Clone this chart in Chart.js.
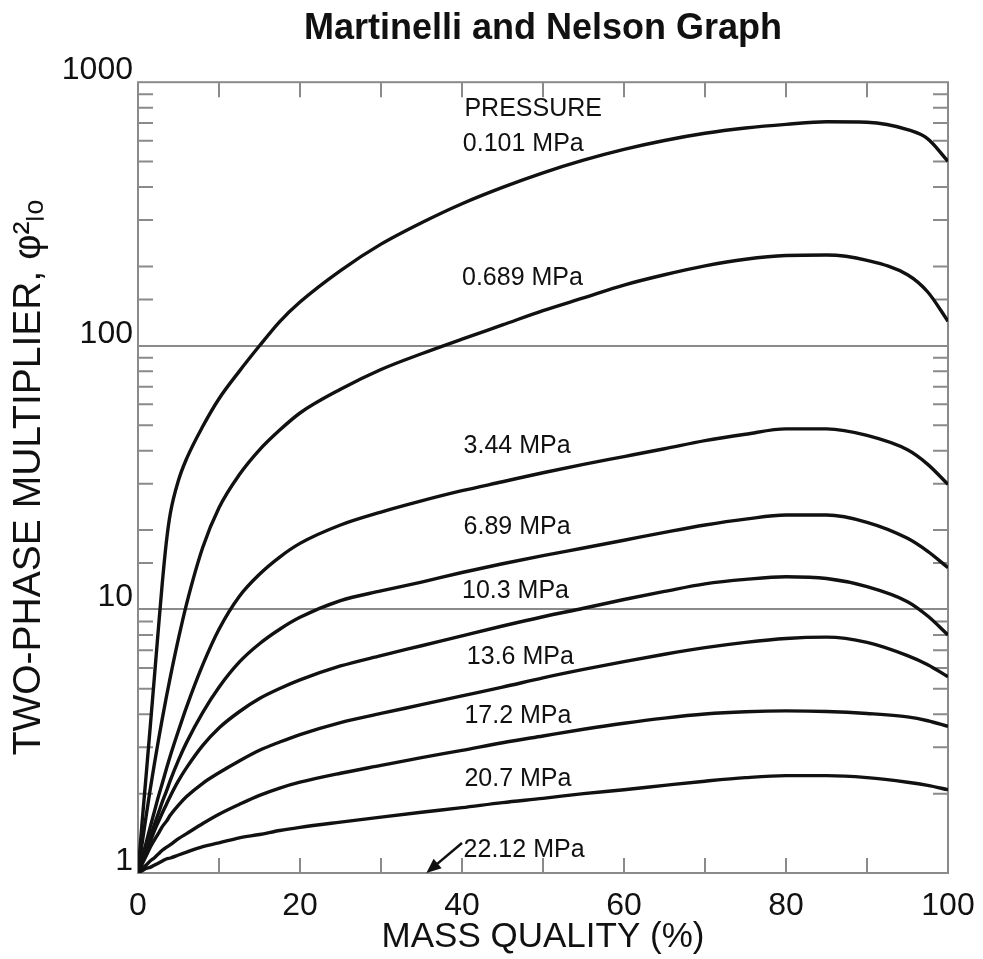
<!DOCTYPE html>
<html lang="en">
<head>
<meta charset="UTF-8" />
<title>Martinelli and Nelson Graph</title>
<script src="https://cdn.jsdelivr.net/npm/chart.js"></script>
<style>
  html, body { margin: 0; padding: 0; background: #fff; }
  #wrap { width: 983px; height: 959px; }
</style>
</head>
<body>
<div id="wrap"><canvas id="chart" width="983" height="959"></canvas></div>
<script>
  // mass quality (%) shared by every curve
  const quality = [0, 0.5, 1, 1.5, 2, 2.5, 3, 3.5, 4, 5, 6, 8, 10, 12.5, 15, 17.5, 20,
    25, 30, 35, 40, 45, 50, 55, 60, 65, 70, 75, 80, 85, 90, 95, 97.5, 100];

  // two-phase multiplier, one array per pressure
  const p0101 = [1, 1.55, 2.34, 3.55, 5.43, 8.32, 12.6, 18, 23.2, 30.9, 37.3, 49.5, 63, 80, 100, 123.6, 146.6,
    193, 243, 293, 346, 399, 453, 506, 556, 601, 640, 670, 692, 708, 705, 661, 610, 501];
  const p0689 = [1, 1.29, 1.64, 2.07, 2.57, 3.16, 3.85, 4.65, 5.56, 7.76, 10.5, 17.2, 24.3, 32.4, 40.3, 47.9, 55.6,
    68.4, 81.3, 93.3, 106, 120, 136, 152, 170, 186, 201, 213, 220, 221, 211, 186, 160, 124];
  const p344 = [1, 1.14, 1.30, 1.49, 1.70, 1.94, 2.19, 2.48, 2.79, 3.47, 4.27, 6.17, 8.41, 11.2, 13.6, 15.8, 17.8,
    20.9, 23.4, 25.8, 28.2, 30.5, 33.0, 35.5, 38.0, 40.7, 43.7, 46.2, 48.4, 48.4, 45.7, 40.3, 35.5, 29.8];
  const p689 = [1, 1.11, 1.24, 1.37, 1.52, 1.68, 1.86, 2.04, 2.25, 2.68, 3.13, 4.07, 5.07, 6.31, 7.41, 8.41, 9.33,
    10.8, 11.75, 12.7, 13.8, 14.9, 16.0, 17.1, 18.3, 19.6, 20.9, 22.0, 22.8, 22.8, 21.4, 18.6, 16.6, 14.4];
  const p103 = [1, 1.1, 1.2, 1.31, 1.44, 1.56, 1.69, 1.82, 1.96, 2.24, 2.51, 3.05, 3.55, 4.09, 4.59, 5.01, 5.40,
    6.10, 6.68, 7.28, 7.94, 8.65, 9.38, 10.1, 10.9, 11.7, 12.5, 13.0, 13.3, 13.1, 12.2, 10.7, 9.44, 8.0];
  const p136 = [1, 1.08, 1.16, 1.25, 1.33, 1.41, 1.50, 1.57, 1.66, 1.81, 1.95, 2.19, 2.40, 2.66, 2.92, 3.14, 3.35,
    3.72, 4.03, 4.35, 4.70, 5.07, 5.50, 5.92, 6.34, 6.76, 7.16, 7.50, 7.76, 7.85, 7.50, 6.68, 6.17, 5.55];
  const p172 = [1, 1.04, 1.07, 1.11, 1.14, 1.18, 1.22, 1.25, 1.28, 1.35, 1.41, 1.54, 1.67, 1.82, 1.97, 2.10, 2.21,
    2.39, 2.56, 2.74, 2.92, 3.12, 3.31, 3.51, 3.70, 3.87, 4.01, 4.09, 4.12, 4.10, 4.03, 3.91, 3.78, 3.60];
  const p207 = [1, 1.02, 1.04, 1.05, 1.07, 1.09, 1.11, 1.13, 1.14, 1.17, 1.20, 1.26, 1.30, 1.36, 1.40, 1.45, 1.49,
    1.56, 1.63, 1.70, 1.77, 1.85, 1.92, 2.0, 2.07, 2.15, 2.23, 2.30, 2.34, 2.34, 2.30, 2.21, 2.15, 2.07];

  const curves = [p0101, p0689, p344, p689, p103, p136, p172, p207];

  // curve labels and where they sit, in data units (quality %, multiplier)
  const labelText = ['PRESSURE', '0.101 MPa', '0.689 MPa', '3.44 MPa', '6.89 MPa',
    '10.3 MPa', '13.6 MPa', '17.2 MPa', '20.7 MPa', '22.12 MPa'];
  const labelQuality = [40.3, 40.1, 40, 40.2, 40.2, 40, 40.6, 40.3, 40.3, 40.2];
  const labelValue = [790, 580, 180, 41.5, 20.6, 11.7, 6.6, 3.95, 2.27, 1.22];

  // arrow for the critical pressure curve (tail, head)
  const arrowQuality = [40, 35.6];
  const arrowValue = [1.3, 1];

  const FONT = '"Liberation Sans", Arial, sans-serif';
  const ink = '#111';

  const isDecade = v => Math.abs(Math.log10(v) - Math.round(Math.log10(v))) < 1e-9;

  const framePlugin = {
    id: 'frame',
    beforeDatasetsDraw(chart) {
      const { ctx, chartArea: a, scales: { x, y } } = chart;
      ctx.save();
      ctx.strokeStyle = '#8a8a8a';
      ctx.lineWidth = 2;
      ctx.strokeRect(a.left, a.top, a.right - a.left, a.bottom - a.top);
      ctx.beginPath();
      x.ticks.forEach(t => {
        if (t.value <= 0 || t.value >= 100) return;
        const px = x.getPixelForValue(t.value);
        ctx.moveTo(px, a.bottom); ctx.lineTo(px, a.bottom - 15);
        ctx.moveTo(px, a.top); ctx.lineTo(px, a.top + 15);
      });
      y.ticks.forEach(t => {
        if (isDecade(t.value)) return;
        const py = y.getPixelForValue(t.value);
        ctx.moveTo(a.left, py); ctx.lineTo(a.left + 15, py);
        ctx.moveTo(a.right, py); ctx.lineTo(a.right - 15, py);
      });
      ctx.stroke();
      ctx.restore();
    },
    afterDraw(chart) {
      const { ctx, scales: { x, y } } = chart;
      ctx.save();
      ctx.fillStyle = ink;
      ctx.font = '25px ' + FONT;
      ctx.textBaseline = 'middle';
      ctx.textAlign = 'left';
      labelText.forEach((txt, i) => {
        ctx.fillText(txt, x.getPixelForValue(labelQuality[i]), y.getPixelForValue(labelValue[i]));
      });
      // arrow
      const x0 = x.getPixelForValue(arrowQuality[0]), y0 = y.getPixelForValue(arrowValue[0]);
      const x1 = x.getPixelForValue(arrowQuality[1]), y1 = y.getPixelForValue(arrowValue[1]);
      const ang = Math.atan2(y1 - y0, x1 - x0);
      ctx.strokeStyle = ink;
      ctx.lineWidth = 2.5;
      ctx.beginPath();
      ctx.moveTo(x0, y0);
      ctx.lineTo(x1 - 8 * Math.cos(ang), y1 - 8 * Math.sin(ang));
      ctx.stroke();
      ctx.beginPath();
      ctx.moveTo(x1, y1);
      ctx.lineTo(x1 - 16 * Math.cos(ang - 0.4), y1 - 16 * Math.sin(ang - 0.4));
      ctx.lineTo(x1 - 16 * Math.cos(ang + 0.4), y1 - 16 * Math.sin(ang + 0.4));
      ctx.closePath();
      ctx.fill();
      ctx.restore();
    }
  };

  new Chart(document.getElementById('chart'), {
    type: 'line',
    data: {
      datasets: curves.map((c, i) => ({
        label: labelText[i + 1],
        data: quality.map((q, j) => ({ x: q, y: c[j] })),
        borderColor: ink,
        borderWidth: 3.4,
        pointRadius: 0,
        fill: false,
        cubicInterpolationMode: 'monotone'
      }))
    },
    options: {
      responsive: false,
      animation: false,
      devicePixelRatio: 1,
      layout: { padding: { left: 0, right: 35, top: 0, bottom: 0 } },
      plugins: {
        legend: { display: false },
        tooltip: { enabled: false },
        title: {
          display: true,
          text: 'Martinelli and Nelson Graph',
          color: ink,
          fullSize: false,
          font: { family: FONT, size: 36, weight: 'bold' },
          padding: { top: 7, bottom: 32 }
        }
      },
      scales: {
        x: {
          type: 'linear',
          min: 0,
          max: 100,
          grid: { display: false },
          border: { display: false },
          ticks: {
            stepSize: 10,
            autoSkip: false,
            maxRotation: 0,
            color: ink,
            padding: 6,
            font: { family: FONT, size: 32 },
            callback: v => (v % 20 === 0 ? String(v) : '')
          },
          title: {
            display: true,
            text: 'MASS QUALITY (%)',
            color: ink,
            font: { family: FONT, size: 35 },
            padding: { top: 0, bottom: 1 }
          },
          afterFit: s => { s.height = 86; }
        },
        y: {
          type: 'logarithmic',
          min: 1,
          max: 1000,
          grid: {
            drawTicks: false,
            lineWidth: 2,
            color: c => (c.tick && (c.tick.value === 10 || c.tick.value === 100)) ? '#8a8a8a' : 'rgba(0,0,0,0)'
          },
          border: { display: false },
          ticks: {
            autoSkip: false,
            color: ink,
            padding: 5,
            labelOffset: -12,
            font: { family: FONT, size: 32 },
            callback: v => (isDecade(v) ? String(v) : '')
          },
          title: {
            display: true,
            text: 'TWO-PHASE MULTIPLIER, \u03c6\u00b2\u2097\u2092',
            color: ink,
            font: { family: FONT, size: 39 },
            padding: { top: 6, bottom: 0 }
          },
          afterFit: s => { s.width = 138; }
        }
      }
    },
    plugins: [framePlugin]
  });
</script>
</body>
</html>
